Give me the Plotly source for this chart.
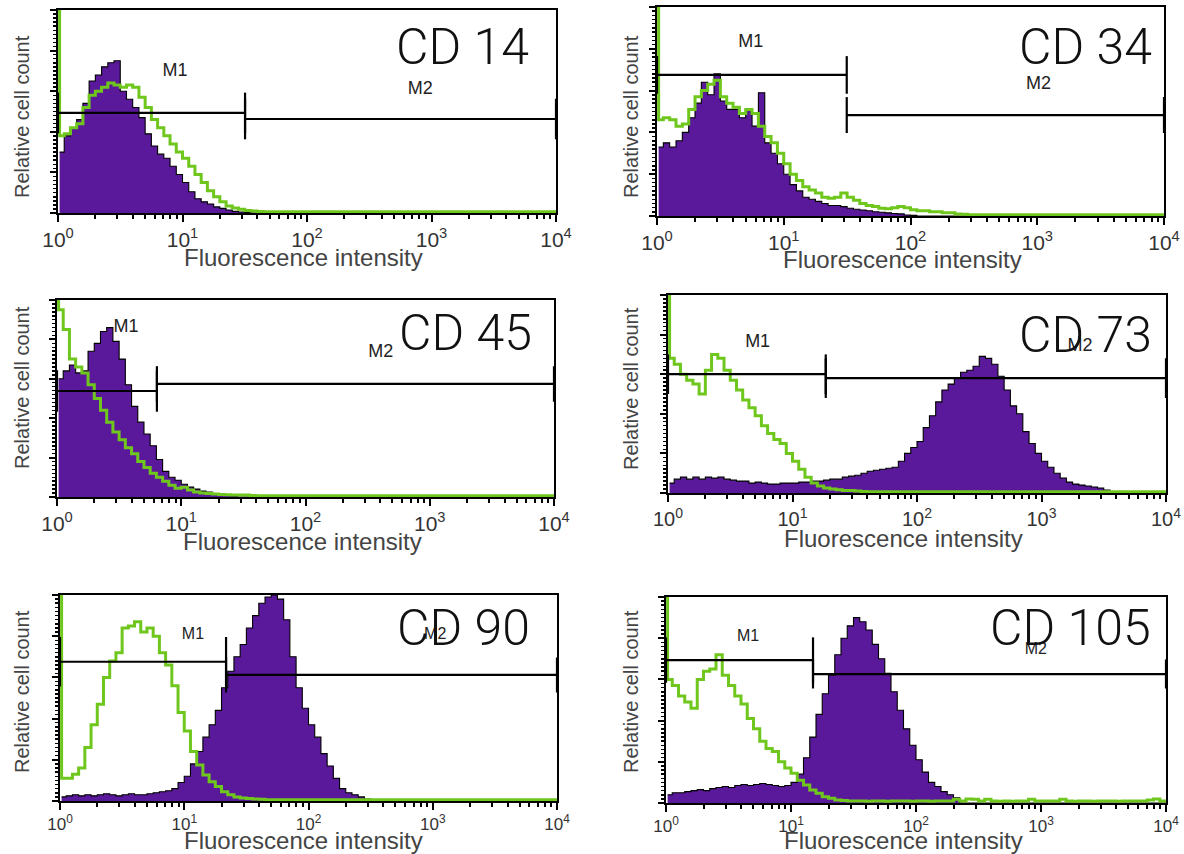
import plotly.graph_objects as go

# ---------------- data ----------------
# histogram channel positions (log10 of fluorescence intensity)
LOG_CHANNEL = [0.00, 0.05, 0.10, 0.15, 0.20, 0.25, 0.30, 0.35, 0.40, 0.45,
               0.50, 0.55, 0.60, 0.65, 0.70, 0.75, 0.80, 0.85, 0.90, 0.95,
               1.00, 1.05, 1.10, 1.15, 1.20, 1.25, 1.30, 1.35, 1.40, 1.45,
               1.50, 1.55, 1.60, 1.65, 1.70, 1.75, 1.80, 1.85, 1.90, 1.95,
               2.00, 2.05, 2.10, 2.15, 2.20, 2.25, 2.30, 2.35, 2.40, 2.45,
               2.50, 2.55, 2.60, 2.65, 2.70, 2.75, 2.80, 2.85, 2.90, 2.95,
               3.00, 3.05, 3.10, 3.15, 3.20, 3.25, 3.30, 3.35, 3.40, 3.45,
               3.50, 3.55, 3.60, 3.65, 3.70, 3.75, 3.80, 3.85, 3.90, 3.95,
               4.00]
FIRST_CHANNEL = 1.03   # intensity of the first (off-scale) channel

MARKERS = ["CD 14", "CD 34", "CD 45", "CD 73", "CD 90", "CD 105"]

# stained sample (purple, filled)
CD14_SAMPLE = [30, 38, 42, 46, 54, 65, 68, 72, 74, 75, 60, 56, 52, 47, 39, 33, 29, 27, 23, 19,
               15, 10.5, 7, 5.5, 4.4, 3, 2.3, 1.5, 0.8, 0.5, 0.3, 0]
CD34_SAMPLE = [33, 35, 33, 36, 40, 47, 54, 64, 58, 68, 55, 51, 51, 47, 51, 43, 59, 35, 30, 25,
               20, 15, 12, 9, 8, 7, 6, 5, 5, 4.5, 3.7, 3.2, 2.9, 2.5, 2, 1.8, 1.5, 1.2, 1.0, 0.5,
               0.3, 0]
CD45_SAMPLE = [60, 64, 67, 63, 64, 74, 78, 84, 86, 79, 70, 57, 46, 38, 32, 26, 19, 13, 10, 8.5,
               6.5, 5, 4, 3, 2.5, 1.8, 1.2, 0.8, 0.5, 0]
CD73_SAMPLE = [5, 7, 8, 7, 8, 7, 8, 7.5, 8, 7, 6.5, 6, 6, 5, 5.5, 5, 4.5, 4.5, 5, 5,
               5, 5.5, 5.5, 6, 6, 6.5, 7, 7, 8, 8.5, 9, 10, 11, 11.5, 12, 12.5, 13, 16, 20, 23,
               26, 33, 39, 46, 52, 55, 58, 61, 62, 64, 69, 68, 65, 59, 52, 44, 40, 31, 25, 20,
               16, 13, 10, 7.5, 5.5, 4.5, 4, 3.5, 3, 2.5, 1.5, 0]
CD90_SAMPLE = [2, 2.5, 3, 2.5, 3, 2.5, 3, 3.5, 3, 2.5, 3, 3.5, 3, 3, 3.5, 4, 4.5, 5, 6, 9,
               12, 18, 24, 31, 37, 44, 55, 63, 70, 76, 84, 90, 96, 99, 100, 98, 88, 70, 55, 45,
               37, 31, 23, 17, 11, 6, 4, 3, 2, 1, 0.5, 0]
CD105_SAMPLE = [4, 5, 5, 5.5, 6, 6.5, 6, 7, 7.5, 8, 7.5, 8.5, 9, 8.5, 9, 9.5, 9, 8.5, 8, 8.5,
                10, 14, 22, 32, 43, 53, 62, 72, 80, 86, 90, 88, 84, 77, 70, 63, 54, 45, 36, 28,
                21, 15, 10, 8, 5.5, 4, 2.5, 0]

# isotype control (green line); first-channel spike kept separately
ISOTYPE_SPIKE = [100, 100, 100, 100, 100, 100]
CD14_ISOTYPE = [38, 39, 42, 44, 52, 58, 60, 62, 64, 63, 62, 63, 62, 57, 52, 46, 42, 38, 34, 30,
                27, 23, 19, 15, 11, 8, 5.5, 3.5, 2.5, 1.8, 1.2, 1, 0.8, 0.6]
CD34_ISOTYPE = [46, 47, 46, 43, 44, 51, 57, 60, 63, 65, 57, 54, 52, 49, 51, 49, 43, 38, 35, 30,
                25, 20, 17, 14, 12.5, 11, 9, 8.5, 9, 11, 9, 7.5, 6, 5, 4.5, 3.7, 3.5, 4, 4.5, 4,
                3, 2.5, 2.5, 2, 2, 1.5, 1.5, 1, 0.8, 0.6]
CD45_ISOTYPE = [95, 85, 70, 66, 63, 57, 50, 44, 38, 33, 29, 25, 22, 18, 15, 12, 10, 8, 6, 4.5,
                5, 3.5, 2.5, 2, 1.8, 1.5, 1.3, 1.2, 1, 1, 1, 0.8, 0.6]
CD73_ISOTYPE = [68, 65, 60, 57, 55, 50, 62, 70, 68, 62, 57, 52, 47, 43, 39, 34, 30, 27, 25, 20,
                16, 12, 8, 5, 3.5, 2.5, 2, 1.6, 1.3, 1.2, 1, 0.8, 0.6]
CD90_ISOTYPE = [11, 11, 13, 16, 26, 37, 47, 60, 68, 72, 84, 85, 87, 82, 84, 80, 72, 66, 56, 43,
                34, 24, 17.5, 12.6, 9.4, 7, 4.5, 3, 2, 1.5, 1.2, 1, 0.8, 0.6]
CD105_ISOTYPE = [60, 57, 52, 49, 46, 60, 64, 65, 72, 62, 57, 52, 48, 41, 36, 30, 26.5, 25, 20, 17,
                 14.4, 11, 8.7, 6.3, 4.7, 3, 2.3, 1.5, 1.2, 1, 1, 1, 0.9, 1, 1, 0.9, 1, 1, 1, 0.9,
                 1, 1, 0.9, 1, 1, 1, 1.8, 1, 2, 1.8, 1, 1.8, 1, 0.9, 1, 0.9, 1, 1, 1.8, 1,
                 1, 1, 1, 1.8, 1, 0.9, 1, 1, 0.9, 1, 1, 1, 0.9, 1, 1, 1, 1, 1.5, 2, 1, 1]

SAMPLES = [CD14_SAMPLE, CD34_SAMPLE, CD45_SAMPLE, CD73_SAMPLE, CD90_SAMPLE, CD105_SAMPLE]
ISOTYPES = [CD14_ISOTYPE, CD34_ISOTYPE, CD45_ISOTYPE, CD73_ISOTYPE, CD90_ISOTYPE, CD105_ISOTYPE]

# gate boundary between M1 and M2 (fluorescence intensity)
GATE_SPLIT = [31.8, 31.4, 6.37, 18.5, 21.7, 15.0]
AXIS_MIN, AXIS_MAX = 1, 10000
TICK_TEXT = ["10<sup>0</sup>", "10<sup>1</sup>", "10<sup>2</sup>", "10<sup>3</sup>", "10<sup>4</sup>"]
TICK_VALS = [1, 10, 100, 1000, 10000]

# ---------------- layout / style ----------------
W, H = 1184, 854
PURPLE = "#5a199b"
GREEN = "#6fc71e"
# plot boxes in pixels: left, right, top, bottom
BOXES = [(58, 556, 10, 213), (657, 1164, 7, 216), (57, 554, 300, 497),
         (668, 1166, 295, 493), (60, 557, 595, 801), (666, 1166, 597, 803)]
M1_LEVEL = [49.3, 67.5, 53.8, 60.0, 67.6, 69.4]
M2_LEVEL = [46.3, 48.3, 57.4, 58.0, 61.2, 62.6]
M1_BAR = [10, 9, 10.5, 10, 12, 11]
M2_BAR = [10, 8.6, 9, 10, 8.5, 7]
M1_LABEL = [(0.94, 69.5), (0.74, 82.8), (0.556, 85.8), (0.72, 75.8), (1.07, 80.6), (0.657, 80.7)]
M2_LABEL = [(2.91, 60.6), (3.01, 62.7), (2.605, 73.1), (3.31, 73.9), (3.02, 80.6), (2.958, 74.3)]
TITLE_POS = [(462, 47), (1085, 47), (465, 333), (1085, 335), (463, 628), (1070, 628)]
YTITLE_POS = [(22, 117), (631, 117), (22, 388), (631, 389), (22, 692), (631, 692)]
XTITLE_POS = [(303, 257), (902, 259), (302, 541), (903, 538), (303, 840), (903, 840)]
TICKFONT = [21, 21, 21, 20, 17, 17]
MLABEL_FONT = [18, 18, 18, 18, 16, 16]

X = [10 ** v for v in LOG_CHANNEL]
MINOR = [m * 10 ** d for d in range(4) for m in range(2, 10)]

fig = go.Figure()
layout = {}
annotations = []

for i in range(6):
    sfx = "" if i == 0 else str(i + 1)
    xa, ya = "x" + sfx, "y" + sfx
    l, r, t, b = BOXES[i]

    s = SAMPLES[i]
    xs = [FIRST_CHANNEL] + X[1:len(s)] + [AXIS_MAX]
    ys = list(s) + [s[-1]]
    fig.add_trace(go.Scatter(x=xs, y=ys, mode="lines", line=dict(shape="hv", color="black", width=1.1),
                             fill="tozeroy", fillcolor=PURPLE, xaxis=xa, yaxis=ya,
                             hoverinfo="skip", showlegend=False))
    g = ISOTYPES[i]
    xg = [AXIS_MIN, FIRST_CHANNEL] + X[1:len(g)] + [AXIS_MAX]
    yg = [ISOTYPE_SPIKE[i]] + list(g) + [g[-1]]
    fig.add_trace(go.Scatter(x=xg, y=yg, mode="lines", line=dict(shape="hv", color=GREEN, width=3),
                             xaxis=xa, yaxis=ya, hoverinfo="skip", showlegend=False))

    # gates
    gx, gy = [], []
    for (x0, x1, lev, half) in [(AXIS_MIN, GATE_SPLIT[i], M1_LEVEL[i], M1_BAR[i]),
                                (GATE_SPLIT[i], AXIS_MAX, M2_LEVEL[i], M2_BAR[i])]:
        gx += [x0, x1, None, x0, x0, None, x1, x1, None]
        gy += [lev, lev, None, lev - half, lev + half, None, lev - half, lev + half, None]
    fig.add_trace(go.Scatter(x=gx, y=gy, mode="lines", line=dict(color="black", width=2.2),
                             xaxis=xa, yaxis=ya, hoverinfo="skip", showlegend=False))
    fig.add_trace(go.Scatter(x=[10 ** M1_LABEL[i][0], 10 ** M2_LABEL[i][0]],
                             y=[M1_LABEL[i][1], M2_LABEL[i][1]], mode="text", text=["M1", "M2"],
                             textfont=dict(family="Liberation Sans Narrow, Liberation Sans, Arial",
                                           size=MLABEL_FONT[i], color="#222"),
                             xaxis=xa, yaxis=ya, hoverinfo="skip", showlegend=False))

    layout["xaxis" + sfx] = dict(
        domain=[l / W, r / W], anchor=ya, type="log", range=[0, 4], automargin=False,
        showline=True, mirror=True, linecolor="black", linewidth=2, layer="below traces",
        ticks="outside", ticklen=7, tickwidth=2, tickcolor="black",
        tickvals=TICK_VALS, ticktext=TICK_TEXT,
        tickfont=dict(family="Liberation Sans, Arial", size=TICKFONT[i], color="#333"),
        minor=dict(tickvals=MINOR, ticks="outside", ticklen=4, tickwidth=2, tickcolor="black"),
        showgrid=False, zeroline=False, fixedrange=True)
    layout["yaxis" + sfx] = dict(
        domain=[1 - b / H, 1 - t / H], anchor=xa, range=[0, 100], automargin=False,
        showline=True, mirror=True, linecolor="black", linewidth=2, layer="below traces",
        ticks="outside", ticklen=6, tickwidth=2, tickcolor="black",
        tickvals=[0, 20, 40, 60, 80, 100], showticklabels=False,
        minor=dict(tick0=0, dtick=2, ticks="outside", ticklen=3, tickwidth=1.5, tickcolor="black"),
        showgrid=False, zeroline=False, fixedrange=True)

    cx, cy = TITLE_POS[i]
    annotations.append(dict(x=cx / W, y=1 - cy / H, xref="paper", yref="paper", text=MARKERS[i],
                            showarrow=False, xanchor="center", yanchor="middle",
                            font=dict(family="Roboto, Liberation Sans", size=50, color="#111", weight=300)))
    cx, cy = YTITLE_POS[i]
    annotations.append(dict(x=cx / W, y=1 - cy / H, xref="paper", yref="paper", text="Relative cell count",
                            showarrow=False, xanchor="center", yanchor="middle", textangle=-90,
                            font=dict(family="Liberation Sans, Arial", size=20, color="#444")))
    cx, cy = XTITLE_POS[i]
    annotations.append(dict(x=cx / W, y=1 - cy / H, xref="paper", yref="paper", text="Fluorescence intensity",
                            showarrow=False, xanchor="center", yanchor="middle",
                            font=dict(family="Liberation Sans, Arial", size=24, color="#444")))

fig.update_layout(width=W, height=H, margin=dict(l=0, r=0, t=0, b=0, autoexpand=False),
                  paper_bgcolor="white", plot_bgcolor="white",
                  annotations=annotations, **layout)
fig.write_html("out.html", config={"displayModeBar": False, "staticPlot": True},
               post_script="document.body.style.margin='0px';document.body.style.overflow='hidden';")
